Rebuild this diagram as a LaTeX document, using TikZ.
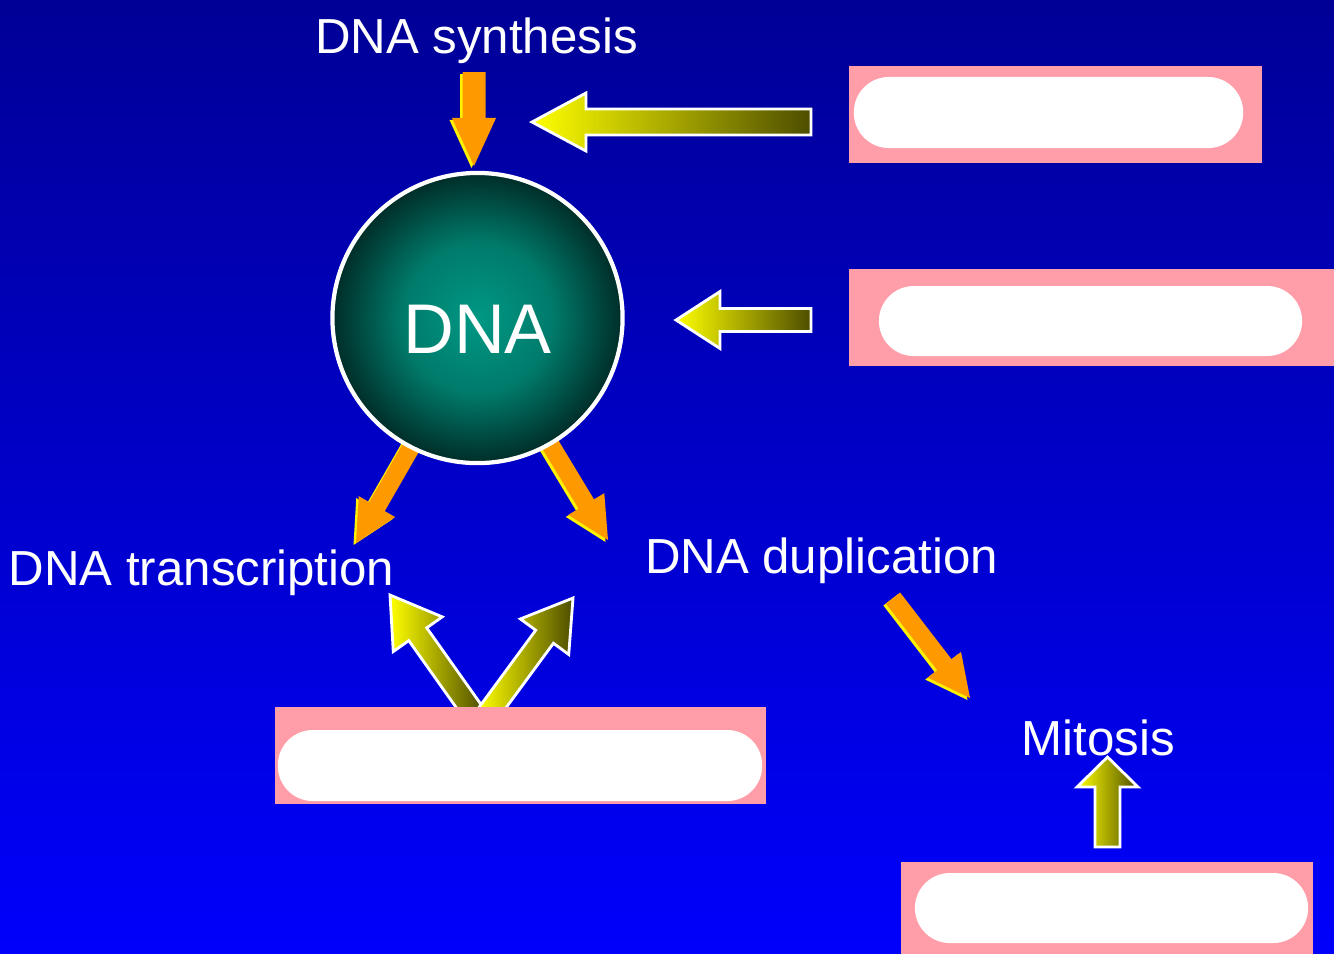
\documentclass[tikz,border=0pt]{standalone}
\usepackage{fontspec}
\setmainfont{Liberation Sans}
\usepackage{xcolor}
\definecolor{bgtop}{RGB}{0,0,150}
\definecolor{bgbottom}{RGB}{0,0,252}
\definecolor{slidepink}{RGB}{255,158,168}
\definecolor{arroworange}{RGB}{255,153,0}
\definecolor{arrowdark}{RGB}{77,77,0}
\definecolor{dnacore}{RGB}{0,152,132}
\definecolor{dnarim}{RGB}{0,45,40}
\usepackage{tikz}
\usetikzlibrary{calc}
\pgfdeclareradialshading{dnaball}{\pgfpoint{0bp}{0bp}}{color(0bp)=(dnacore); color(13bp)=(dnacore!72!dnarim); color(25bp)=(dnarim); color(50bp)=(dnarim)}
\newcommand{\blockarrow}[6][]{%
  \coordinate (neck) at ($(#3)!#6!(#2)$);
  \path[#1] ($(#2)!#4!90:(#3)$) -- ($(neck)!#4!90:(#3)$) -- ($(neck)!#5!90:(#3)$) -- (#3)
    -- ($(neck)!#5!-90:(#3)$) -- ($(neck)!#4!-90:(#3)$) -- ($(#2)!#4!-90:(#3)$) -- cycle;}

\begin{document}
\begin{tikzpicture}[x=0.01cm, y=-0.01cm,
    label/.style={text=white, inner sep=0pt, anchor=base, font=\fontsize{14}{17}\selectfont},
    pinkbox/.style={fill=slidepink, inner sep=0pt},
    slot/.style={fill=white, inner sep=0pt, rounded corners=0.35cm},
    goldarrow/.style={left color=yellow, middle color=yellow!78!arrowdark, right color=arrowdark, draw=white, line width=0.8pt}]
  \useasboundingbox (0,0) rectangle (1334,953);
  \shade[top color=bgtop, bottom color=bgbottom] (0,0) rectangle (1334,953);

  \coordinate (synthtop) at (474,72);
  \coordinate (synthtip) at (474,166);
  \coordinate (transfoot) at (421,430);
  \coordinate (transtip) at (356,543);
  \coordinate (dupfoot) at (541,429);
  \coordinate (duptip) at (608,540);
  \coordinate (mitfoot) at (893,598);
  \coordinate (mittip) at (970,698);
  \foreach \a/\b/\s/\h/\l in {synthtop/synthtip/0.115cm/0.22cm/0.48cm,
      transfoot/transtip/0.09cm/0.21cm/0.42cm, dupfoot/duptip/0.09cm/0.21cm/0.42cm,
      mitfoot/mittip/0.09cm/0.21cm/0.42cm}{
    \begin{scope}[transform canvas={shift={(-0.025cm,-0.02cm)}}]
      \blockarrow[fill=yellow]{\a}{\b}{\s}{\h}{\l}
    \end{scope}
    \blockarrow[fill=arroworange]{\a}{\b}{\s}{\h}{\l}
  }

  \node[circle, draw=white, line width=1.2pt, shade, shading=dnaball, minimum size=2.9cm, inner sep=0pt] (dna) at (477.5,318) {};
  \node[label, font=\fontsize{20}{24}\selectfont] (dnaname) at (477.5,353) {DNA};

  \node[label] (synth) at (476.5,53) {DNA synthesis};
  \node[label] (trans) at (201.5,585) {DNA transcription};
  \node[label] (dup) at (821.5,573) {DNA duplication};
  \node[label] (mitosis) at (1098.5,755) {Mitosis};

  \coordinate (topfeed) at (811,122);
  \coordinate (topin) at (532,122);
  \coordinate (midfeed) at (811,320);
  \coordinate (midin) at (676,320);
  \coordinate (vleft) at (475,715);
  \coordinate (vlefttip) at (390,595);
  \coordinate (vright) at (487,715);
  \coordinate (vrighttip) at (573,598);
  \coordinate (mitfeed) at (1107.5,847);
  \coordinate (mitin) at (1107.5,757);
  \blockarrow[goldarrow]{topfeed}{topin}{0.13cm}{0.29cm}{0.54cm}
  \blockarrow[goldarrow]{midfeed}{midin}{0.115cm}{0.285cm}{0.44cm}
  \blockarrow[goldarrow]{vleft}{vlefttip}{0.11cm}{0.30cm}{0.48cm}
  \blockarrow[goldarrow]{vright}{vrighttip}{0.11cm}{0.30cm}{0.48cm}
  \blockarrow[goldarrow]{mitfeed}{mitin}{0.125cm}{0.305cm}{0.30cm}

  \node[pinkbox, minimum width=4.13cm, minimum height=0.97cm] (box1) at (1055.5,114.5) {};
  \node[slot, minimum width=3.89cm, minimum height=0.71cm] (slot1) at (1048.5,112.5) {};
  \node[pinkbox, minimum width=4.85cm, minimum height=0.97cm] (box2) at (1091.5,317.5) {};
  \node[slot, minimum width=4.23cm, minimum height=0.70cm] (slot2) at (1090.5,321) {};
  \node[pinkbox, minimum width=4.90cm, minimum height=0.97cm] (box3) at (520.5,755.5) {};
  \node[slot, minimum width=4.84cm, minimum height=0.71cm] (slot3) at (520,765.5) {};
  \node[pinkbox, minimum width=4.12cm, minimum height=0.98cm] (box4) at (1107,911) {};
  \node[slot, minimum width=3.93cm, minimum height=0.70cm] (slot4) at (1111.5,908) {};
\end{tikzpicture}
\end{document}
